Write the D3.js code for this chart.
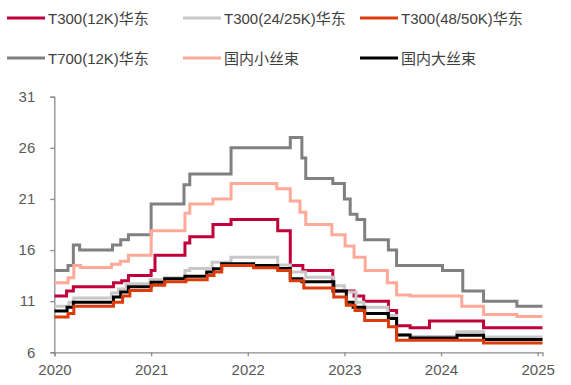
<!DOCTYPE html>
<html><head><meta charset="utf-8">
<script src="https://cdn.jsdelivr.net/npm/d3@7"></script>
<style>
html,body{margin:0;padding:0;background:#fff;}
svg{display:block;font-family:"Liberation Sans",Arial,"Noto Sans CJK SC",sans-serif;}
</style></head>
<body><svg id="c" width="571" height="385"></svg>
<script>
const yTicks = [6, 11, 16, 21, 26, 31];
const xTicks = [2020, 2021, 2022, 2023, 2024, 2025];

const seriesNames = ["T300(12K)华东", "T300(24/25K)华东", "T300(48/50K)华东", "T700(12K)华东", "国内小丝束", "国内大丝束"];
const seriesColors = ["#C0003A", "#C8C8C8", "#DC3C0A", "#808080", "#FFA998", "#000000"];

// [decimal year, value] change points (step after)
const t300_12k = [[2020.0,11.5],[2020.125,12.0],[2020.195,12.4],[2020.61,12.8],[2020.695,13.0],[2020.765,13.5],[2021.0,14.0],[2021.04,15.5],[2021.35,16.7],[2021.40,17.3],[2021.64,18.5],[2021.827,19.0],[2022.31,17.9],[2022.44,14.5],[2022.57,14.0],[2022.88,12.0],[2023.10,11.5],[2023.20,11.0],[2023.456,10.1],[2023.54,8.6],[2023.68,8.4],[2023.88,9.05],[2024.44,8.4],[2025.05,8.4]];
const t300_25k = [[2020.0,10.5],[2020.15,10.9],[2020.2,11.3],[2020.59,11.8],[2020.66,12.2],[2020.74,12.7],[2020.99,13.1],[2021.14,13.3],[2021.35,14.0],[2021.40,14.2],[2021.63,14.8],[2021.827,15.3],[2022.31,14.55],[2022.44,13.85],[2022.60,13.35],[2022.89,12.5],[2023.0,11.9],[2023.12,10.9],[2023.20,10.4],[2023.45,9.6],[2023.54,7.7],[2023.68,7.55],[2024.165,8.0],[2024.44,7.5],[2025.05,7.5]];
const t300_50k = [[2020.0,9.45],[2020.14,9.8],[2020.2,10.5],[2020.61,10.9],[2020.705,11.5],[2020.78,12.05],[2021.0,12.55],[2021.14,12.9],[2021.36,13.1],[2021.58,13.5],[2021.65,13.85],[2021.73,14.5],[2022.06,14.27],[2022.31,14.0],[2022.44,13.0],[2022.58,12.3],[2022.89,11.4],[2023.02,10.6],[2023.11,10.1],[2023.21,9.1],[2023.456,8.5],[2023.54,7.17],[2024.44,6.9],[2025.05,6.9]];
const t700_12k = [[2020.0,14.0],[2020.14,14.5],[2020.195,16.5],[2020.26,16.0],[2020.6,16.5],[2020.685,17.0],[2020.765,17.5],[2021.0,20.5],[2021.34,22.4],[2021.40,23.45],[2021.827,26.0],[2022.44,27.0],[2022.56,25.0],[2022.60,23.0],[2022.88,22.5],[2023.0,21.0],[2023.06,19.5],[2023.13,19.0],[2023.21,17.0],[2023.455,16.0],[2023.54,14.5],[2024.015,14.0],[2024.225,12.0],[2024.44,11.0],[2024.785,10.5],[2025.05,10.5]];
const smallTow = [[2020.0,12.8],[2020.14,13.3],[2020.2,14.5],[2020.27,14.3],[2020.59,14.6],[2020.68,14.9],[2020.765,15.5],[2021.0,17.9],[2021.35,19.6],[2021.40,20.5],[2021.64,21.0],[2021.827,22.5],[2022.30,22.0],[2022.44,20.8],[2022.54,19.7],[2022.60,18.5],[2022.87,17.5],[2023.007,16.4],[2023.10,15.3],[2023.215,14.0],[2023.445,12.8],[2023.54,11.6],[2023.68,11.5],[2024.215,10.5],[2024.44,9.7],[2024.785,9.5],[2025.05,9.5]];
const largeTow = [[2020.0,10.05],[2020.13,10.4],[2020.195,10.9],[2020.61,11.4],[2020.685,11.9],[2020.765,12.4],[2021.0,12.85],[2021.14,13.2],[2021.35,13.45],[2021.575,13.85],[2021.645,14.17],[2021.73,14.65],[2022.06,14.5],[2022.31,14.2],[2022.44,13.2],[2022.56,12.9],[2022.89,12.0],[2023.02,10.9],[2023.09,10.4],[2023.21,9.8],[2023.455,9.3],[2023.54,7.7],[2023.68,7.4],[2024.165,7.66],[2024.44,7.25],[2025.05,7.25]];

const seriesData = [t300_12k, t300_25k, t300_50k, t700_12k, smallTow, largeTow];
const drawOrder = [3, 4, 0, 1, 5, 2];

const svg = d3.select("#c");
const x = d3.scaleLinear().domain([2020, 2025.05]).range([54.5, 542.5]);
const y = d3.scaleLinear().domain([6, 31]).range([352.3, 96.7]);

const axisColor = "#8c8c8c", labelColor = "#595959";

const gx = svg.append("g").attr("transform", "translate(0,352.3)")
  .call(d3.axisBottom(x).tickValues(xTicks).tickFormat(d3.format("d")).tickSize(4).tickPadding(8));
const gy = svg.append("g").attr("transform", "translate(54.3,0)")
  .call(d3.axisLeft(y).tickValues(yTicks).tickSize(4).tickPadding(15));
[gx, gy].forEach(g => {
  g.select(".domain").attr("stroke", axisColor).attr("stroke-width", 1.3);
  g.selectAll(".tick line").attr("stroke", axisColor).attr("stroke-width", 1.3);
  g.selectAll(".tick text").attr("fill", labelColor).style("font-size", "15px")
    .style("font-family", '"Liberation Sans",Arial,sans-serif');
});

const line = d3.line().x(d => x(d[0])).y(d => y(d[1])).curve(d3.curveStepAfter);
drawOrder.forEach(i => {
  svg.append("path").datum(seriesData[i])
    .attr("fill", "none").attr("stroke", seriesColors[i]).attr("stroke-width", 3)
    .attr("stroke-linejoin", "miter").attr("d", line);
});

// legend
const legX = [7, 183, 360], legY = [18, 58];
seriesNames.forEach((name, i) => {
  const lx = legX[i % 3], ly = legY[Math.floor(i / 3)];
  svg.append("line").attr("x1", lx).attr("x2", lx + 38).attr("y1", ly).attr("y2", ly)
    .attr("stroke", seriesColors[i]).attr("stroke-width", 3);
  svg.append("text").attr("x", lx + 41).attr("y", ly + 5.5).text(name)
    .attr("fill", "#404040").style("font-size", "15px");
});
</script></body></html>
